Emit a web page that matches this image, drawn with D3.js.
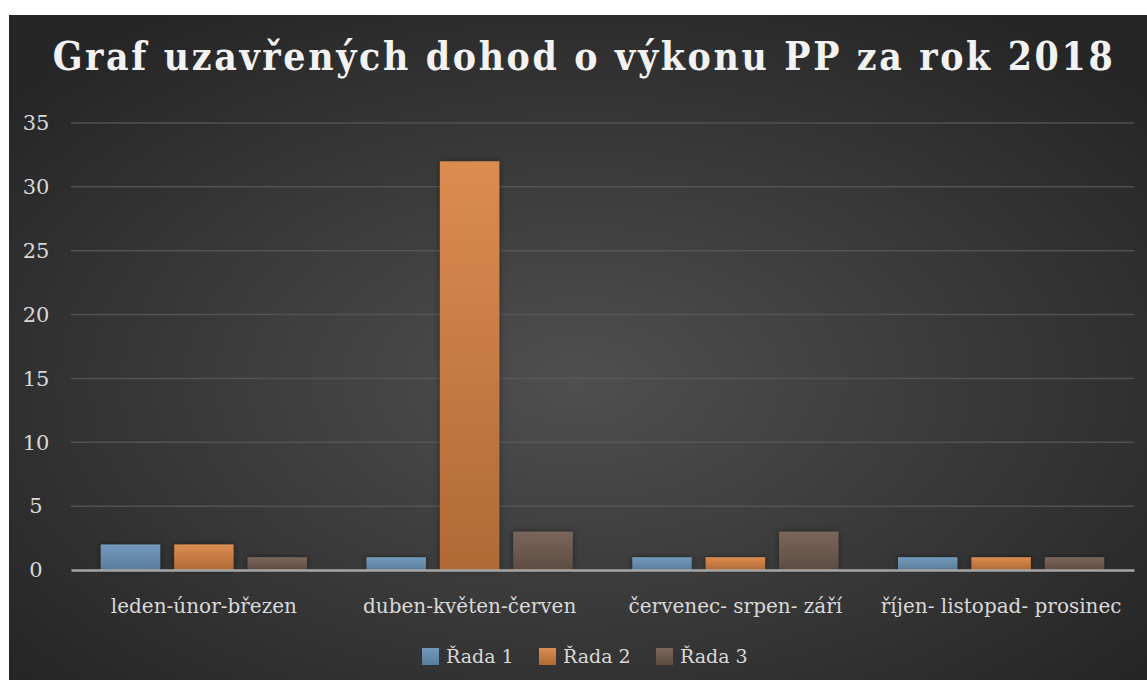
<!DOCTYPE html>
<html>
<head>
<meta charset="utf-8">
<script src="https://cdn.jsdelivr.net/npm/d3@7"></script>
<style>
  body { margin: 0; background: #fff; }
  text { font-family: "DejaVu Serif", serif; }
</style>
</head>
<body>
<script>
var categories = ["leden-únor-březen", "duben-květen-červen", "červenec- srpen- září", "říjen- listopad- prosinec"];
var seriesNames = ["Řada 1", "Řada 2", "Řada 3"];
var rada1 = [2, 1, 1, 1];
var rada2 = [2, 32, 1, 1];
var rada3 = [1, 3, 3, 1];
var yTicks = [0, 5, 10, 15, 20, 25, 30, 35];
var colors = [["#7399bb", "#5a7d9c"], ["#dc8c50", "#b06a35"], ["#7b665a", "#5e4c42"]];

var W = 1147, H = 680;
var margin = { left: 71, right: 13, top: 123, bottom: 110 };

var svg = d3.select("body").append("svg")
            .attr("width", W).attr("height", H);

var defs = svg.append("defs");
var bg = defs.append("radialGradient").attr("id", "bg")
             .attr("cx", "50%").attr("cy", "55%").attr("r", "65%");
bg.append("stop").attr("offset", "0%").attr("stop-color", "#4f4f4f");
bg.append("stop").attr("offset", "100%").attr("stop-color", "#262626");

colors.forEach(function(c, i) {
  var g = defs.append("linearGradient").attr("id", "bar" + i)
              .attr("x1", 0).attr("y1", 0).attr("x2", 0).attr("y2", 1);
  g.append("stop").attr("offset", "0%").attr("stop-color", c[0]);
  g.append("stop").attr("offset", "100%").attr("stop-color", c[1]);
});

var shadow = defs.append("filter").attr("id", "shadow")
                 .attr("x", "-20%").attr("y", "-20%").attr("width", "140%").attr("height", "140%");
shadow.append("feDropShadow").attr("dx", 0).attr("dy", 0).attr("stdDeviation", 3)
      .attr("flood-color", "#000").attr("flood-opacity", 0.45);

svg.append("rect").attr("x", 9).attr("y", 15).attr("width", W - 9).attr("height", H - 15)
   .attr("fill", "url(#bg)");

// title: DejaVu is wider than the original font, so squeeze it to ~1063px
var title = svg.append("text").attr("x", 0).attr("y", 0)
   .attr("text-anchor", "middle")
   .style("font-size", "40px").style("font-weight", "bold")
   .style("letter-spacing", "3px")
   .attr("fill", "#f2f2f2")
   .text("Graf uzavřených dohod o výkonu PP za rok 2018");
var tw = title.node().getComputedTextLength();
title.attr("transform", "translate(584,70) scale(" + (1063 / tw) + ",1)");

var x0 = d3.scaleBand().domain(categories).range([margin.left, W - margin.right]);
var bw = x0.bandwidth();
var x1 = d3.scaleBand().domain(seriesNames).range([bw * 0.112, bw * 0.888]).paddingInner(0.19);
var y = d3.scaleLinear().domain([0, 35]).range([570, margin.top]);

var grid = svg.append("g");
grid.selectAll("line").data(yTicks.slice(1)).enter().append("line")
    .attr("x1", margin.left).attr("x2", W - margin.right)
    .attr("y1", function(d) { return y(d); }).attr("y2", function(d) { return y(d); })
    .attr("stroke", "#5a5a5a").attr("stroke-width", 1.5).attr("opacity", 0.8);

var yAxis = svg.append("g").attr("transform", "translate(" + margin.left + ",0)")
               .call(d3.axisLeft(y).tickValues(yTicks).tickSize(0).tickPadding(0));
yAxis.select(".domain").remove();
yAxis.selectAll("text").attr("fill", "#d9d9d9").style("font-size", "21px")
     .style("font-family", "DejaVu Serif").attr("text-anchor", "middle").attr("x", -35);

var series = [rada1, rada2, rada3];
var groups = svg.selectAll(".grp").data(categories).enter().append("g")
                .attr("transform", function(d) { return "translate(" + x0(d) + ",0)"; });
groups.selectAll("rect").data(function(d, i) {
    return series.map(function(s, k) { return { name: seriesNames[k], k: k, v: s[i] }; });
  }).enter().append("rect")
  .attr("x", function(d) { return x1(d.name); })
  .attr("width", x1.bandwidth())
  .attr("y", function(d) { return y(d.v); })
  .attr("height", function(d) { return y(0) - y(d.v); })
  .attr("fill", function(d) { return "url(#bar" + d.k + ")"; })
  .attr("filter", "url(#shadow)");

var xAxis = svg.append("g").attr("transform", "translate(0," + y(0) + ")")
               .call(d3.axisBottom(x0).tickSize(0).tickPadding(29));
xAxis.select(".domain").attr("stroke", "#a6a6a6").attr("stroke-width", 2.5);
xAxis.selectAll("text").attr("fill", "#d9d9d9").style("font-size", "20px")
     .style("font-family", "DejaVu Serif");

var legend = svg.append("g").attr("transform", "translate(422,656)");
var lx = [0, 117, 234];
seriesNames.forEach(function(n, i) {
  var g = legend.append("g").attr("transform", "translate(" + lx[i] + ",0)");
  g.append("rect").attr("x", 0).attr("y", -8).attr("width", 17).attr("height", 17)
   .attr("fill", "url(#bar" + i + ")");
  g.append("text").attr("x", 24).attr("y", 0).attr("dy", "0.35em")
   .attr("fill", "#d9d9d9").style("font-size", "19px").text(n);
});
</script>
</body>
</html>
